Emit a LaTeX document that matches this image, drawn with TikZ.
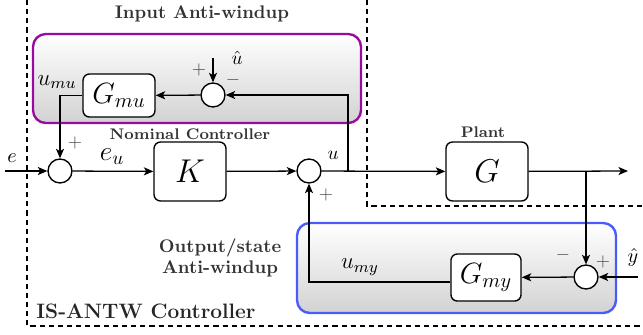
\RequirePackage{fix-cm}
\documentclass[tikz,border=0pt]{standalone}
\usepackage{amsmath}
\usepackage{amssymb}
\usetikzlibrary{arrows.meta, backgrounds}

\definecolor{awpurple}{RGB}{155,10,160}
\definecolor{awblue}{RGB}{75,90,250}

\tikzset{
  block/.style={draw, shape=rectangle, rounded corners=3.5pt, fill=white, line width=0.75pt, inner sep=1pt},
  sumnode/.style={draw, shape=circle, fill=white, minimum size=13.1pt, inner sep=0pt, line width=0.75pt},
  awpanel/.style={rounded corners=7pt, line width=1.3pt, top color=white, bottom color=gray!35},
  frame/.style={dashed, dash pattern=on 2.8pt off 2.2pt, line width=0.8pt},
  title/.style={text=black!80, align=center, font=\bfseries\fontsize{10}{11.5}\selectfont},
  subtitle/.style={text=black!80, font=\bfseries\fontsize{8.4}{10}\selectfont},
  sign/.style={text=black!70, inner sep=0pt, font=\fontsize{10}{11}\selectfont}
}

\begin{document}
\begin{tikzpicture}[x=0.5464pt, y=-0.5464pt, >={Stealth[length=5.2pt, width=4.4pt, inset=1.3pt]}, line width=0.7pt]
\useasboundingbox (0,0) rectangle (643,334);
% controller frame
\draw [frame] (27,0) -- (27,326) -- (643,326);
\draw [frame] (367,0) -- (367,206) -- (643,206);
% anti-windup panels
\draw [awpanel, draw=awpurple] (33,34) rectangle (361,123);
\draw [awpanel, draw=awblue] (297,223) rectangle (616,313);
\node [title] (inaw) at (202,14) {Input Anti-windup};
\node [title] (outaw) at (220,258) {Output/state\\Anti-windup};
\node [subtitle] (nomc) at (190,134) {Nominal Controller};
\node [subtitle] (plant) at (483,132) {Plant};
\node [text=black!85, font=\bfseries\fontsize{11.4}{13}\selectfont] (isantw) at (146,311) {IS-ANTW Controller};
% blocks
\node [sumnode] (sume) at (60,171) {};
\node [block, minimum width=39.3pt, minimum height=32.2pt, font=\fontsize{18}{20}\selectfont] (K) at (190,171.5) {$K$};
\node [sumnode] (sumu) at (309,171) {};
\node [block, minimum width=44.8pt, minimum height=32.2pt, font=\fontsize{18}{20}\selectfont] (G) at (487,171.5) {$G$};
\node [block, minimum width=39.3pt, minimum height=23.5pt, font=\fontsize{16}{18}\selectfont] (Gmu) at (119,95.5) {$G_{mu}$};
\node [sumnode] (summu) at (213,95) {};
\node [block, minimum width=38.3pt, minimum height=25.7pt, font=\fontsize{16}{18}\selectfont] (Gmy) at (486,277.5) {$G_{my}$};
\node [sumnode] (summy) at (586,277) {};
% signal labels
\node [font=\fontsize{11}{12}\selectfont] (elab) at (12,158) {$e$};
\node [font=\fontsize{15}{16}\selectfont] (eulab) at (112,157) {$e_u$};
\node [font=\fontsize{10.5}{12}\selectfont] (ulab) at (333,155) {$u$};
\node [font=\fontsize{12.6}{14}\selectfont] (umulab) at (57,82) {$u_{mu}$};
\node [font=\fontsize{12.5}{14}\selectfont] (umylab) at (360,267) {$u_{my}$};
\node [font=\fontsize{10.5}{12}\selectfont] (uhatlab) at (237,58) {$\hat{u}$};
\node [font=\fontsize{11}{12}\selectfont] (yhatlab) at (633,257) {$\hat{y}$};
% signs
\node [sign] (pmu) at (199,70) {$+$};
\node [sign] (mmu) at (233,80) {$-$};
\node [sign] (pe) at (75,143) {$+$};
\node [sign] (pu) at (326,195) {$+$};
\node [sign] (mmy) at (563,255) {$-$};
\node [sign] (pmy) at (603,262) {$+$};
% connectors
\coordinate (ein) at (5,171);
\coordinate (yout) at (628,171);
\coordinate (ubranch) at (348,171);
\coordinate (ybranch) at (586,171);
\coordinate (uhat) at (213,58);
\coordinate (yhat) at (638,277);
\draw [->] (ein) -- (sume);
\draw [->] (sume) -- (K);
\draw [->] (K) -- (sumu);
\draw [->] (sumu) -- (G);
\draw [->] (G) -- (yout);
\draw [->] (ubranch) |- (summu);
\draw [->] (uhat) -- (summu);
\draw [->] (summu) -- (Gmu);
\draw [->] (Gmu) -| (sume);
\draw [->] (ybranch) -- (summy);
\draw [->] (yhat) -- (summy);
\draw [->] (summy) -- (Gmy);
\draw [->] ([yshift=-2.5pt]Gmy.west) -| (sumu);
\end{tikzpicture}
\end{document}
